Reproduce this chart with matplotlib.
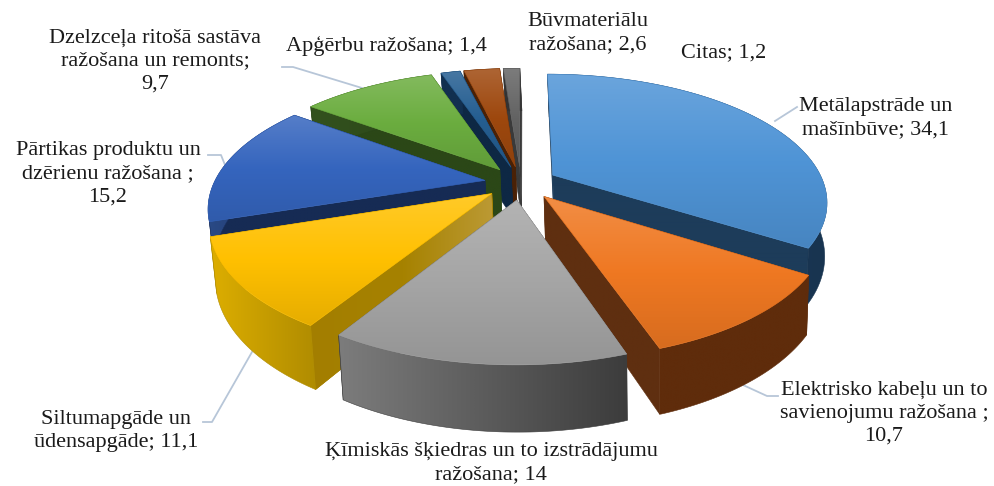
import numpy as np
import matplotlib
matplotlib.use('Agg')
import matplotlib.pyplot as plt
from matplotlib.colors import LinearSegmentedColormap, to_rgb
from matplotlib.patches import Polygon

values = [34.1, 10.7, 14, 11.1, 15.2, 9.7, 1.4, 2.6, 1.2]
labels = ['Metālapstrāde un\nmašīnbūve; 34,1',
          'Elektrisko kabeļu un to\nsavienojumu ražošana ;\n10,7',
          'Ķīmiskās šķiedras un to izstrādājumu\nražošana; 14',
          'Siltumapgāde un\nūdensapgāde; 11,1',
          'Pārtikas produktu un\ndzērienu ražošana ;\n15,2',
          'Dzelzceļa ritošā sastāva\nražošana un remonts;\n9,7',
          'Apģērbu ražošana; 1,4',
          'Būvmateriālu\nražošana; 2,6',
          'Citas; 1,2']
top_colors = ['#4F94D6', '#EF7822', '#A5A5A5', '#FFC000', '#3565BE',
              '#6BAD3F', '#255E91', '#9E480E', '#636363']
rim_colors = [('#1F4263', '#183450'), ('#5F2C0B', '#5F2C0B'), ('#7C7C7C', '#3C3C3C'),
              ('#DDAE00', '#B08C00'), ('#2A4A86', '#1A3060'), ('#33521E', '#2A4518'),
              ('#123050', '#123050'), ('#4A2106', '#4A2106'), ('#333333', '#333333')]
cut_colors = ['#1D3C5A', '#5F2F10', '#444444', '#A37E00', '#162B54',
              '#2B4717', '#0E2844', '#4A2106', '#3A3A3A']
label_pos = [(876, 118), (884, 413), (491, 463), (116, 431), (108, 174),
             (155, 61), (386, 46), (588, 33), (724, 53)]
leaders = [[(797, 107), (775, 121)],
           [(778, 396), (767, 396), (743, 385)],
           [(203, 422), (212, 422), (252, 352)],
           [(208, 155), (221, 155), (225, 165)],
           [(282, 67), (293, 67), (362, 88)]]

cx, cy = 521, 183
R, k, p = 271, 124, 0.20
explode = 0.135
depth = 52
shrink = 0.014
shift = 2

plt.rcParams['font.family'] = ['Liberation Serif', 'DejaVu Serif']
fig = plt.figure(figsize=(9.95, 4.86), dpi=100)
ax = fig.add_axes([0, 0, 1, 1])
ax.set_xlim(0, 995)
ax.set_ylim(486, 0)
ax.axis('off')


def project(u, v, z=0):
    s = 1 / (1 + p * v)
    return cx + shift * z + R * u * s * (1 - shrink * z), cy - k * v * s + depth * z * s


def mix(c, other, t):
    c = np.array(to_rgb(c))
    return tuple(c * (1 - t) + np.array(other) * t)


def shade(points, colors, vertical, z):
    points = np.array(points)
    x0, y0 = points.min(axis=0)
    x1, y1 = points.max(axis=0)
    cmap = LinearSegmentedColormap.from_list('g', colors)
    grad = np.linspace(0, 1, 256)
    grad = grad[:, None] if vertical else grad[None, :]
    im = ax.imshow(grad, cmap=cmap, extent=(x0, x1, y1, y0), aspect='auto', zorder=z,
                   interpolation='bilinear')
    patch = Polygon(points, closed=True, transform=ax.transData, fc='none', ec='none')
    ax.add_patch(patch)
    im.set_clip_path(patch)
    ax.add_patch(Polygon(points, closed=True, fc='none', zorder=z,
                         ec=colors[len(colors) // 2], lw=0.4))


def draw_slice(i, a0, a1, z):
    mid = (a0 + a1) / 2
    ox, oy = explode * np.sin(mid), explode * np.cos(mid)
    t = np.linspace(a0, a1, 80)
    us = ox + np.sin(t)
    vs = oy + np.cos(t)
    top = [project(a, b) for a, b in zip(us, vs)]
    bottom = [project(a, b, 1) for a, b in zip(us, vs)]
    apex = project(ox, oy)
    apex_b = project(ox, oy, 1)
    c = cut_colors[i]
    for n in (0, -1):
        shade([apex, top[n], bottom[n], apex_b], [c, c], False, z)
    if i == 3:
        # yellow face gets lighter towards the middle
        shade([apex, top[0], bottom[0], apex_b], ['#A37E00', '#A68200', '#BC9A35'], False, z)
    shade(top + bottom[::-1], list(rim_colors[i]), False, z + 0.1)
    base = top_colors[i]
    shade([apex] + top, [mix(base, (1, 1, 1), 0.16), base, mix(base, (0, 0, 0), 0.1)],
          True, z + 0.2)


fractions = np.cumsum([0] + values) / sum(values)
angles = fractions * 2 * np.pi
mids = (angles[:-1] + angles[1:]) / 2
order = np.argsort(-np.cos(mids))
for rank, i in enumerate(order):
    draw_slice(i, angles[i], angles[i + 1], 2 + rank)

for line in leaders:
    xs, ys = zip(*line)
    ax.plot(xs, ys, color='#B7C6D8', lw=1.3, zorder=1)

for text, (x, y) in zip(labels, label_pos):
    ax.text(x, y, text, ha='center', va='center', fontsize=16, color='#1a1a1a',
            linespacing=1.3, zorder=30)

ax.set_xlim(0, 995)
ax.set_ylim(486, 0)
fig.savefig('out.png', dpi=100)
